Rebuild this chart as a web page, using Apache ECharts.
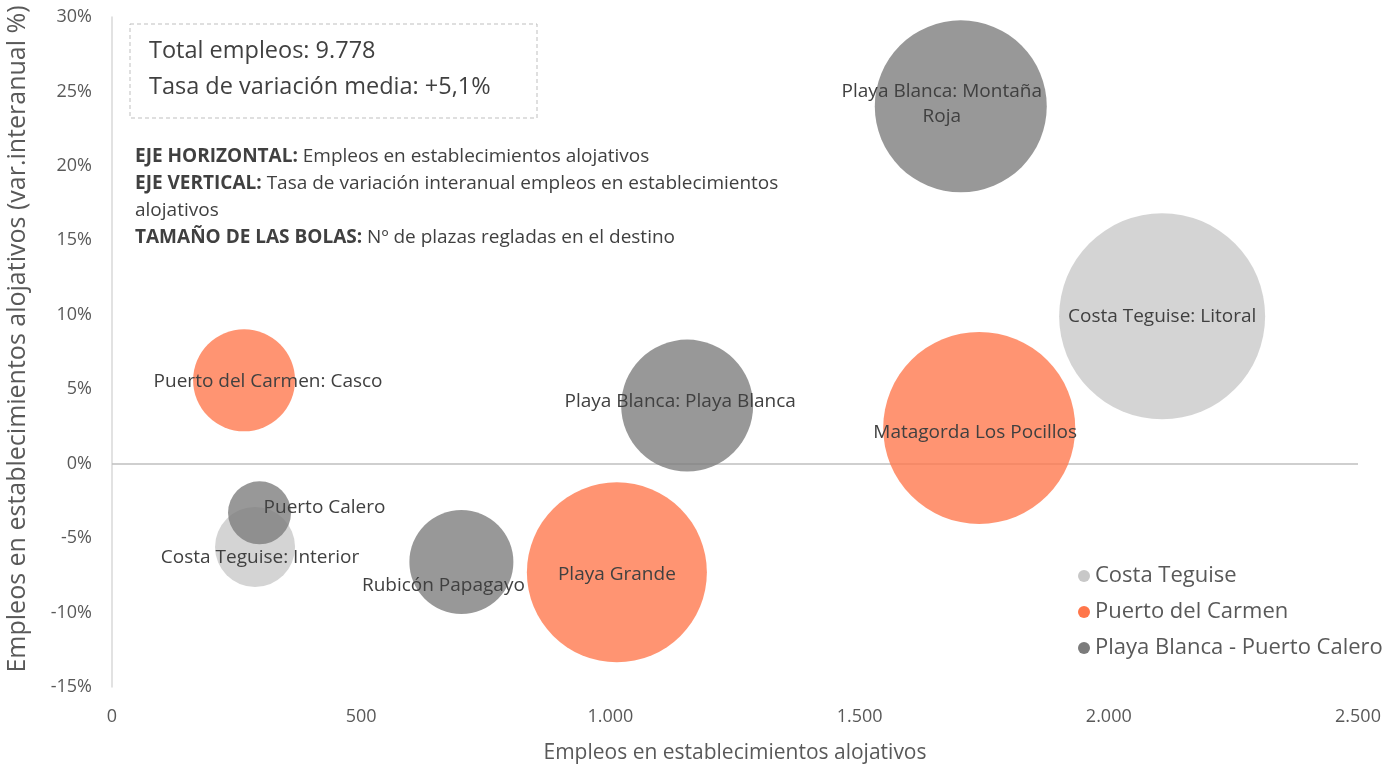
<!DOCTYPE html>
<html>
<head>
<meta charset="utf-8">
<script src="https://cdn.jsdelivr.net/npm/echarts@6/dist/echarts.min.js"></script>
<style>
	html, body { margin: 0; padding: 0; background: #fff; }
	#chart { width: 1400px; height: 767px; }
</style>
</head>
<body>
<div id="chart"></div>
<script>
// zonas turísticas y su grupo (índice en groups)
const groups = ['Costa Teguise', 'Puerto del Carmen', 'Playa Blanca - Puerto Calero'];
const zones = [
	'Costa Teguise: Litoral',
	'Costa Teguise: Interior',
	'Puerto del Carmen: Casco',
	'Matagorda Los Pocillos',
	'Playa Grande',
	'Playa Blanca: Montaña Roja',
	'Playa Blanca: Playa Blanca',
	'Rubicón Papagayo',
	'Puerto Calero',
];
const zoneGroup = [0, 0, 1, 1, 1, 2, 2, 2, 2];
// empleos en establecimientos alojativos
const empleos = [2107, 287, 265, 1740, 1013, 1703, 1154, 701, 296];
// tasa de variación interanual (%)
const variacion = [9.9, -5.6, 5.6, 2.4, -7.3, 24.0, 3.9, -6.6, -3.3];
// nº de plazas regladas (tamaño de las bolas)
const plazas = [20000, 3020, 4900, 17380, 15270, 13940, 8210, 5100, 1870];

const xTicks = { min: 0, max: 2500, interval: 500 };
const yTicks = { min: -15, max: 30, interval: 5 };
const totalEmpleos = '9.778';
const tasaMedia = '+5,1%';

// styling
const FONT = '"Open Sans", sans-serif';
const groupColors = ['#C8C8C8', '#FF764A', '#7B7B7B'];
const BUBBLE_OPACITY = 0.78;
const SIZE_K = 1.4566; // px de diámetro por raíz de plaza
const labelTweaks = {
	'Costa Teguise: Interior': { offset: [5, 11] },
	'Puerto del Carmen: Casco': { offset: [24, 1] },
	'Matagorda Los Pocillos': { offset: [-4, 5] },
	'Playa Grande': { offset: [0, 2] },
	'Playa Blanca: Montaña Roja': { offset: [-19, -2], text: 'Playa Blanca: Montaña\nRoja' },
	'Playa Blanca: Playa Blanca': { offset: [-7, -4] },
	'Rubicón Papagayo': { offset: [-18, 24] },
	'Puerto Calero': { offset: [65, -5] },
};

const fmtThousands = (v) => String(v).replace(/\B(?=(\d{3})+(?!\d))/g, '.');

const series = groups.map((g, gi) => ({
	name: g,
	type: 'scatter',
	z: 3,
	itemStyle: { color: groupColors[gi], opacity: BUBBLE_OPACITY },
	emphasis: { disabled: true },
	symbolSize: (val) => Math.sqrt(val[2]) * SIZE_K,
	data: zones
		.map((z, i) => ({ z, i }))
		.filter(({ i }) => zoneGroup[i] === gi)
		.map(({ z, i }) => {
			const t = labelTweaks[z] || {};
			return {
				name: z,
				value: [empleos[i], variacion[i], plazas[i]],
				label: {
					show: true,
					position: 'inside',
					offset: t.offset || [0, 0],
					formatter: t.text || z,
					color: '#404040',
					opacity: 1,
					fontFamily: FONT,
					fontSize: 19,
					lineHeight: 25,
				},
			};
		}),
	markLine: gi === 0 ? {
		silent: true,
		z: 1,
		symbol: ['none', 'none'],
		label: { show: false },
		lineStyle: { color: '#BFBFBF', width: 1.5, type: 'solid' },
		data: [{ yAxis: 0 }],
	} : undefined,
}));

const chart = echarts.init(document.getElementById('chart'));
chart.setOption({
	animation: false,
	backgroundColor: '#fff',
	textStyle: { fontFamily: FONT },
	grid: { left: 112, right: 42, top: 17, bottom: 80, outerBoundsMode: 'none', containLabel: false },
	xAxis: {
		type: 'value',
		...xTicks,
		name: 'Empleos en establecimientos alojativos',
		nameLocation: 'middle',
		nameGap: 56,
		nameTextStyle: { color: '#595959', fontSize: 21, fontFamily: FONT },
		axisLine: { show: false, onZero: false },
		axisTick: { show: false },
		splitLine: { show: false },
		axisLabel: { color: '#595959', fontSize: 18, margin: 21, formatter: fmtThousands },
	},
	yAxis: {
		type: 'value',
		...yTicks,
		name: 'Empleos en establecimientos alojativos (var.interanual %)',
		nameLocation: 'middle',
		nameGap: 82,
		nameTextStyle: { color: '#595959', fontSize: 25, fontFamily: FONT, padding: [0, 0, 0, 26] },
		axisLine: { show: true, onZero: false, lineStyle: { color: '#D9D9D9', width: 1.5 } },
		axisTick: { show: false },
		splitLine: { show: false },
		axisLabel: { color: '#595959', fontSize: 18, margin: 20, formatter: '{value}%' },
	},
	legend: {
		orient: 'vertical',
		left: 1073,
		top: 560,
		itemWidth: 12,
		itemHeight: 12,
		itemGap: 14,
		icon: 'circle',
		textStyle: { color: '#595959', fontSize: 22, lineHeight: 22, fontFamily: FONT },
		data: groups.map((g, gi) => ({ name: g, itemStyle: { color: groupColors[gi], opacity: 1 } })),
	},
	graphic: [
		{
			type: 'rect',
			shape: { x: 130, y: 24, width: 407, height: 94 },
			style: { fill: 'none', stroke: '#BFBFBF', lineWidth: 1, lineDash: [4, 3] },
		},
		{
			type: 'text',
			x: 149,
			y: 33,
			style: {
				text: 'Total empleos: ' + totalEmpleos + '\nTasa de variación media: ' + tasaMedia,
				fill: '#404040',
				font: '23.5px ' + FONT,
				lineHeight: 36,
			},
		},
		{
			type: 'text',
			x: 135,
			y: 143,
			style: {
				text: '{b|EJE HORIZONTAL:} Empleos en establecimientos alojativos\n' +
					'{b|EJE VERTICAL:} Tasa de variación interanual empleos en establecimientos\n' +
					'alojativos\n' +
					'{b|TAMAÑO DE LAS BOLAS:} Nº de plazas regladas en el destino',
				fill: '#404040',
				fontFamily: FONT,
				fontSize: 19,
				lineHeight: 27,
				rich: {
					b: { fontWeight: 'bold', fontFamily: FONT, fontSize: 19, fill: '#404040', lineHeight: 27 },
				},
			},
		},
	],
	series,
});
</script>
</body>
</html>
